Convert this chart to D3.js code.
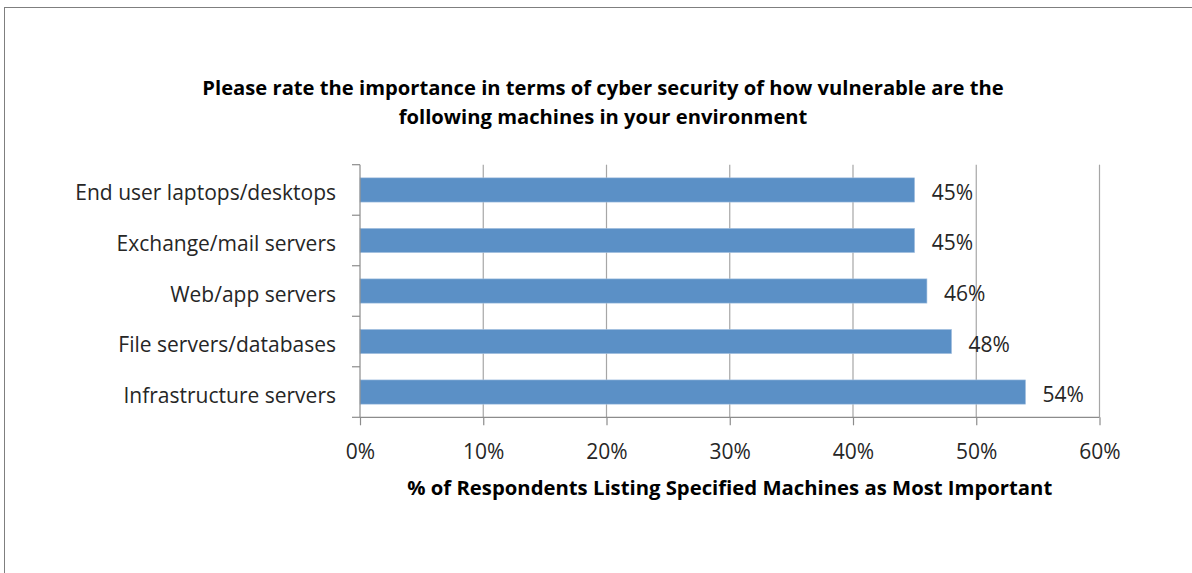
<!DOCTYPE html>
<html><head><meta charset="utf-8">
<script src="https://cdn.jsdelivr.net/npm/d3@7/dist/d3.min.js"></script>
<style>body{margin:0;background:#fff}svg{display:block}text{font-family:"Open Sans",sans-serif}</style>
</head><body><svg id="c" width="1192" height="573"></svg>
<script>
const categories = ["End user laptops/desktops","Exchange/mail servers","Web/app servers","File servers/databases","Infrastructure servers"];
const values = [45,45,46,48,54];
const xTicks = [0,10,20,30,40,50,60];
const titleLines = ["Please rate the importance in terms of cyber security of how vulnerable are the","following machines in your environment"];
const xTitle = "% of Respondents Listing Specified Machines as Most Important";

const svg = d3.select("#c");
svg.append("rect").attr("x",4.5).attr("y",7.5).attr("width",1200).attr("height",600).attr("fill","none").attr("stroke","#7f7f7f");

const m = {l:360, r:1099.5, t:164.7, b:417.3};
const x = d3.scaleLinear().domain([0,60]).range([m.l,m.r]);
const y = d3.scaleBand().domain(categories).range([m.t,m.b]).paddingInner(0.52).paddingOuter(0.26);
const fs = 21;

svg.append("g").selectAll("line").data(xTicks.slice(1)).join("line")
  .attr("x1",d=>x(d)).attr("x2",d=>x(d)).attr("y1",m.t).attr("y2",m.b)
  .attr("stroke","#a6a6a6").attr("stroke-width",1.2);

svg.append("g").selectAll("rect").data(values).join("rect")
  .attr("x",x(0)).attr("y",(d,i)=>y(categories[i]))
  .attr("width",d=>x(d)-x(0)).attr("height",y.bandwidth())
  .attr("fill","#5b90c6").attr("stroke","#a9c4e2").attr("stroke-width",0.6);

svg.append("g").selectAll("text").data(values).join("text")
  .attr("x",d=>x(d)+17).attr("y",(d,i)=>y(categories[i])+y.bandwidth()/2+10)
  .attr("font-size",fs).attr("fill","#262626").text(d=>d+"%");

const xa = svg.append("g").attr("transform",`translate(0,${m.b})`)
  .call(d3.axisBottom(x).tickValues(xTicks).tickFormat(d=>d+"%").tickSize(8));
xa.select(".domain").attr("stroke","#8c8c8c").attr("stroke-width",1.2).attr("d",`M${m.l},0H${m.r}`);
xa.selectAll(".tick line").attr("stroke","#8c8c8c").attr("stroke-width",1.2);
xa.selectAll(".tick text").attr("font-size",fs).attr("fill","#262626").attr("font-family","Open Sans")
  .attr("y",41.5).attr("dy",0);

const ya = svg.append("g").attr("transform",`translate(${m.l},0)`)
  .call(d3.axisLeft(y).tickSize(0).tickPadding(24));
ya.select(".domain").attr("stroke","#8c8c8c").attr("stroke-width",1.2).attr("d",`M0,${m.t}V${m.b}`);
ya.selectAll(".tick text").attr("font-size",fs).attr("fill","#262626").attr("font-family","Open Sans").attr("dy",10.5);
const step = (m.b-m.t)/categories.length;
ya.append("g").selectAll("line").data(d3.range(categories.length+1)).join("line")
  .attr("x1",-8).attr("x2",0).attr("y1",i=>m.t+i*step).attr("y2",i=>m.t+i*step)
  .attr("stroke","#8c8c8c").attr("stroke-width",1.2);

svg.append("g").selectAll("text").data(titleLines).join("text")
  .attr("x",603).attr("y",(d,i)=>95+i*28.5).attr("text-anchor","middle")
  .attr("font-size",20.2).attr("font-weight","bold").attr("fill","#000").text(d=>d);

svg.append("text").attr("x",(m.l+m.r)/2).attr("y",495).attr("text-anchor","middle")
  .attr("font-size",20.3).attr("font-weight","bold").attr("fill","#000").text(xTitle);
</script></body></html>
